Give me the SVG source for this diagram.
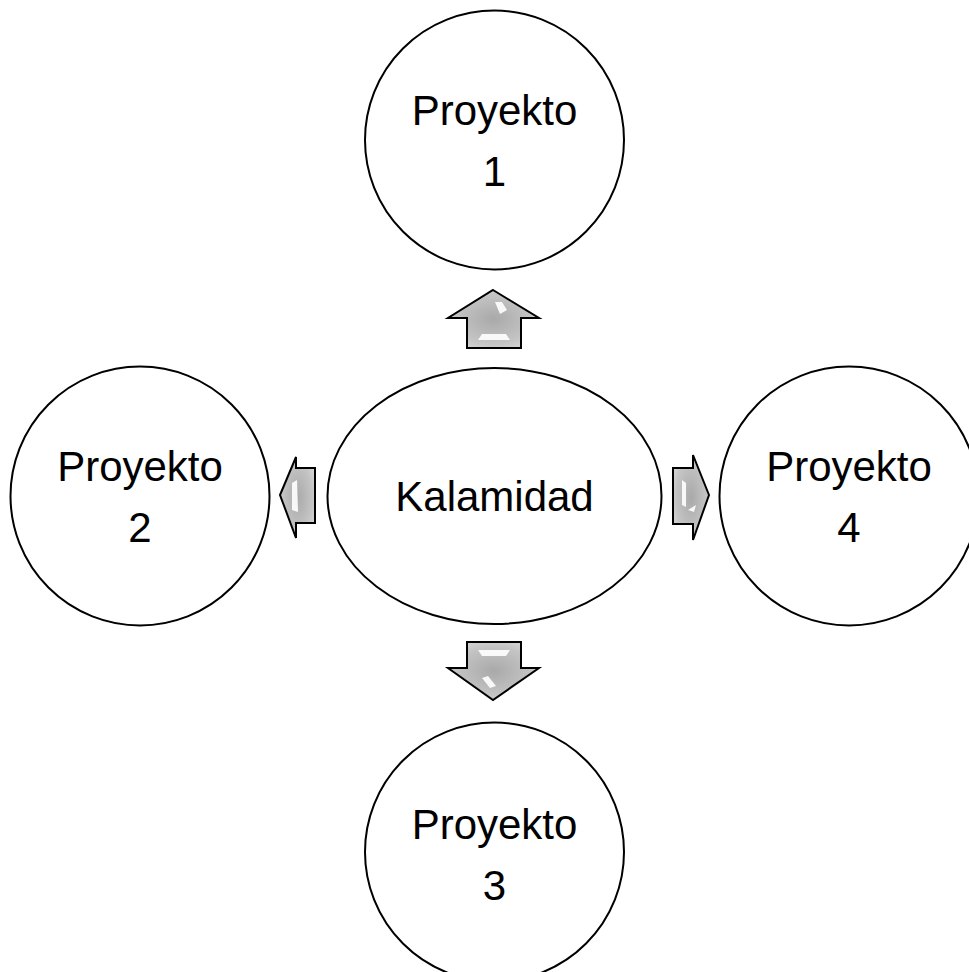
<svg xmlns="http://www.w3.org/2000/svg" width="969" height="972" viewBox="0 0 969 972">
<style>
.node{fill:#fff;stroke:#000;stroke-width:2}
.lbl{font-family:"Liberation Sans",Arial,sans-serif;font-size:42px;fill:#000;text-anchor:middle}
.arr{fill:url(#g);stroke:#000;stroke-width:2;stroke-linejoin:miter}
.hl{fill:#fff;opacity:0.9}
</style>
<defs>
<radialGradient id="g" cx="50%" cy="50%" r="60%">
<stop offset="0" stop-color="#a9a9a9"/>
<stop offset="0.7" stop-color="#c4c4c4"/>
<stop offset="1" stop-color="#d8d8d8"/>
</radialGradient>
</defs>
<rect width="969" height="972" fill="#fff"/>
<g id="connectors">
<g id="arrow-up">
<polygon class="arr" points="493,290 539,318 521,318 521,348 467,348 467,318 448,318"/>
<polygon class="hl" points="478,340 510,340 506,334 482,334"/>
<polygon class="hl" points="495,302 502,302 507,310 500,314"/>
</g>
<g id="arrow-down">
<polygon class="arr" points="467,642 521,642 521,668 539,668 493,700 448,668 467,668"/>
<polygon class="hl" points="478,650 510,650 506,656 482,656"/>
<polygon class="hl" points="482,678 488,676 496,686 490,688"/>
</g>
<g id="arrow-left">
<polygon class="arr" points="280,495 296,457 296,468 315,468 315,523 296,523 296,538"/>
<polygon class="hl" points="292,483 297,480 298,512 292,510"/>
</g>
<g id="arrow-right">
<polygon class="arr" points="709,495 693,455 693,468 673,468 673,524 693,524 693,540"/>
<polygon class="hl" points="682,480 686,483 686,507 682,505"/>
<polygon class="hl" points="688,510 696,505 694,512"/>
</g>
</g>
<g id="node-center">
<ellipse class="node" cx="494.5" cy="496" rx="167" ry="128"/>
<text class="lbl" x="494.5" y="511">Kalamidad</text>
</g>
<g id="node-1">
<circle class="node" cx="494.5" cy="140" r="129.5"/>
<text class="lbl" x="494.5" y="125">Proyekto</text>
<text class="lbl" x="494.5" y="186">1</text>
</g>
<g id="node-2">
<circle class="node" cx="140" cy="496" r="129.5"/>
<text class="lbl" x="140" y="481">Proyekto</text>
<text class="lbl" x="140" y="542">2</text>
</g>
<g id="node-4">
<circle class="node" cx="849" cy="496" r="129.5"/>
<text class="lbl" x="849" y="481">Proyekto</text>
<text class="lbl" x="849" y="542">4</text>
</g>
<g id="node-3">
<circle class="node" cx="494.5" cy="852" r="129.5"/>
<text class="lbl" x="494.5" y="839">Proyekto</text>
<text class="lbl" x="494.5" y="900">3</text>
</g>
</svg>
